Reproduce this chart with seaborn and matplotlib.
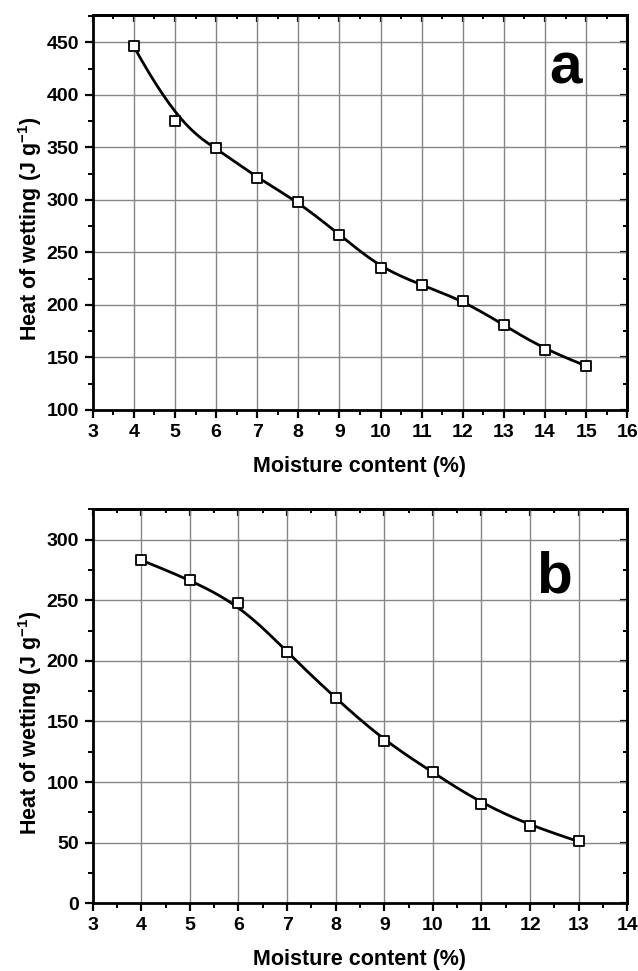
import numpy as np
import pandas as pd
import seaborn as sns
from matplotlib import pyplot as plt
from matplotlib.ticker import MultipleLocator

# panel a
a_moisture = [4, 5, 6, 7, 8, 9, 10, 11, 12, 13, 14, 15]
a_heat = [446, 375, 349, 321, 298, 267, 235, 219, 204, 181, 157, 142]
# panel b
b_moisture = [4, 5, 6, 7, 8, 9, 10, 11, 12, 13]
b_heat = [283, 267, 248, 207, 169, 134, 108, 82, 64, 51]

sns.set_theme(style='white')
plt.rcParams['font.family'] = ['Liberation Sans', 'DejaVu Sans']
plt.rcParams['font.weight'] = 'bold'
plt.rcParams['mathtext.default'] = 'regular'
for key in ['text.color', 'axes.labelcolor', 'xtick.color', 'ytick.color', 'axes.edgecolor']:
    plt.rcParams[key] = 'black'


def bspline(px, py, k=3, num=400):
    '''
    Clamped uniform B-spline with the points as control points (Origin style connect)
    '''
    px = np.asarray(px, float)
    py = np.asarray(py, float)
    n = len(px)
    knots = np.concatenate([np.zeros(k + 1), np.arange(1, n - k), np.full(k + 1, n - k)])
    t = np.linspace(0, n - k, num)
    B = np.zeros((num, len(knots) - 1))
    for i in range(len(knots) - 1):
        B[:, i] = (knots[i] <= t) & (t < knots[i + 1])
    B[-1, :] = 0
    B[-1, n - 1] = 1
    for d in range(1, k + 1):
        Bn = np.zeros((num, len(knots) - 1 - d))
        for i in range(len(knots) - 1 - d):
            den1 = knots[i + d] - knots[i]
            den2 = knots[i + d + 1] - knots[i + 1]
            left = (t - knots[i]) / den1 * B[:, i] if den1 > 0 else 0
            right = (knots[i + d + 1] - t) / den2 * B[:, i + 1] if den2 > 0 else 0
            Bn[:, i] = left + right
        B = Bn
    return B @ px, B @ py


def panel(ax, xs, ys, xlim, ylim, ystep, letter, letter_pos):
    df = pd.DataFrame({'x': xs, 'y': ys})
    cx, cy = bspline(xs, ys)
    curve = pd.DataFrame({'x': cx, 'y': cy})
    sns.lineplot(data=curve, x='x', y='y', sort=False, color='black', lw=2.0, ax=ax, zorder=3)
    sns.scatterplot(data=df, x='x', y='y', marker='s', s=50, facecolor='white',
                    edgecolor='black', linewidth=1.3, ax=ax, zorder=4)
    ax.set_xlim(*xlim)
    ax.set_ylim(*ylim)
    ax.xaxis.set_major_locator(MultipleLocator(1))
    ax.xaxis.set_minor_locator(MultipleLocator(0.5))
    ax.yaxis.set_major_locator(MultipleLocator(ystep))
    ax.yaxis.set_minor_locator(MultipleLocator(ystep / 2))
    ax.grid(which='major', color='#858585', lw=1.0, zorder=0)
    ax.set_axisbelow(True)
    for s in ax.spines.values():
        s.set_linewidth(2)
        s.set_color('black')
    ax.tick_params(which='major', direction='out', length=6, width=1.6, labelsize=14, pad=4,
                   bottom=True, left=True, colors='black')
    ax.tick_params(which='minor', direction='out', length=3.5, width=1.4, bottom=True, left=True)
    for lab in ax.get_xticklabels() + ax.get_yticklabels():
        lab.set_fontweight('bold')

    top = ax.secondary_xaxis('top')
    top.xaxis.set_major_locator(MultipleLocator(1))
    top.xaxis.set_minor_locator(MultipleLocator(0.5))
    top.tick_params(which='major', direction='in', length=5, width=1.6, labeltop=False)
    top.tick_params(which='minor', direction='in', length=3, width=1.4)
    top.spines['top'].set_linewidth(2)
    right = ax.secondary_yaxis('right')
    right.yaxis.set_major_locator(MultipleLocator(ystep))
    right.yaxis.set_minor_locator(MultipleLocator(ystep / 2))
    right.tick_params(which='major', direction='in', length=5, width=1.6, labelright=False)
    right.tick_params(which='minor', direction='in', length=3, width=1.4)
    right.spines['right'].set_linewidth(2)

    ax.set_xlabel('Moisture content (%)', fontsize=15.5, fontweight='bold', labelpad=11)
    ax.set_ylabel('Heat of wetting (J g$^{-1}$)', fontsize=15.5, fontweight='bold')
    ax.yaxis.label.set_va('center')
    ax.yaxis.set_label_coords(-0.118, 0.458)
    ax.text(letter_pos[0], letter_pos[1], letter, ha='center', va='baseline',
            fontsize=42, fontweight='bold', zorder=5)


fig = plt.figure(figsize=(6.38, 9.71), dpi=100)
ax1 = fig.add_axes([0.1453, 0.5778, 0.8379, 0.4068])
ax2 = fig.add_axes([0.1453, 0.0697, 0.8379, 0.4058])

panel(ax1, a_moisture, a_heat, (3, 16), (100, 476), 50, 'a', (14.5, 411))
panel(ax2, b_moisture, b_heat, (3, 14), (0, 325), 50, 'b', (12.5, 256))

fig.savefig('out.png', dpi=100)
